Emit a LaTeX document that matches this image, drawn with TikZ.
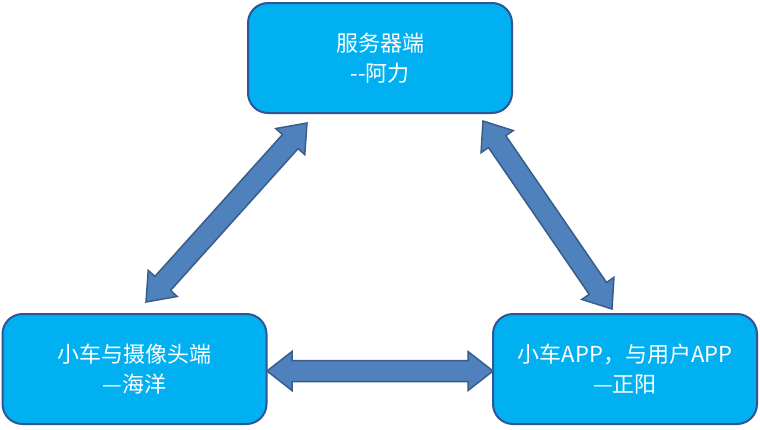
\documentclass[tikz,border=0pt]{standalone}
\usepackage{fontspec}
\newfontfamily\cjk{Noto Sans CJK SC}[Scale=1]
\usetikzlibrary{calc}
\definecolor{boxfill}{HTML}{00B0F0}
\definecolor{boxline}{HTML}{2F5597}
\definecolor{arrfill}{HTML}{4F81BD}
\definecolor{arrline}{HTML}{385D8A}
\tikzset{
  boxnode/.style={draw=boxline, line width=2pt, fill=boxfill, rounded corners=20pt,
    minimum width=264pt, minimum height=110pt, inner sep=0pt,
    text=white, align=center, font=\cjk\fontsize{22}{30}\selectfont},
  bigarrow/.style={draw=arrline, line width=1.5pt, fill=arrfill, line join=miter}
}
\newcommand\dblarrow[2]{%
  \path[bigarrow]
    (#1)
    -- ($($(#1)!25pt!(#2)$)!19.5pt!90:(#2)$)
    -- ($($(#1)!25pt!(#2)$)!10.5pt!90:(#2)$)
    -- ($($(#2)!25pt!(#1)$)!10.5pt!-90:(#1)$)
    -- ($($(#2)!25pt!(#1)$)!19.5pt!-90:(#1)$)
    -- (#2)
    -- ($($(#2)!25pt!(#1)$)!19.5pt!90:(#1)$)
    -- ($($(#2)!25pt!(#1)$)!10.5pt!90:(#1)$)
    -- ($($(#1)!25pt!(#2)$)!10.5pt!-90:(#2)$)
    -- ($($(#1)!25pt!(#2)$)!19.5pt!-90:(#2)$)
    -- cycle;}
\begin{document}
\begin{tikzpicture}[x=1pt,y=-1pt]
\useasboundingbox (0,0) rectangle (760,429);
\fill[white] (0,0) rectangle (760,429);
\node[boxnode] (srv) at (380,58) {服务器端\\--阿力};
\node[boxnode] (car) at (134.5,369) {小车与摄像头端\\—海洋};
\node[boxnode] (app) at (625,369) {小车APP，与用户APP\\—正阳};
% arrow end points
\coordinate (a1) at (307,123);
\coordinate (a2) at (146,302);
\coordinate (b1) at (483,121);
\coordinate (b2) at (612,309);
\coordinate (c1) at (267,371);
\coordinate (c2) at (493,371);
\dblarrow{a1}{a2}
\dblarrow{b1}{b2}
\dblarrow{c1}{c2}
\end{tikzpicture}
\end{document}
